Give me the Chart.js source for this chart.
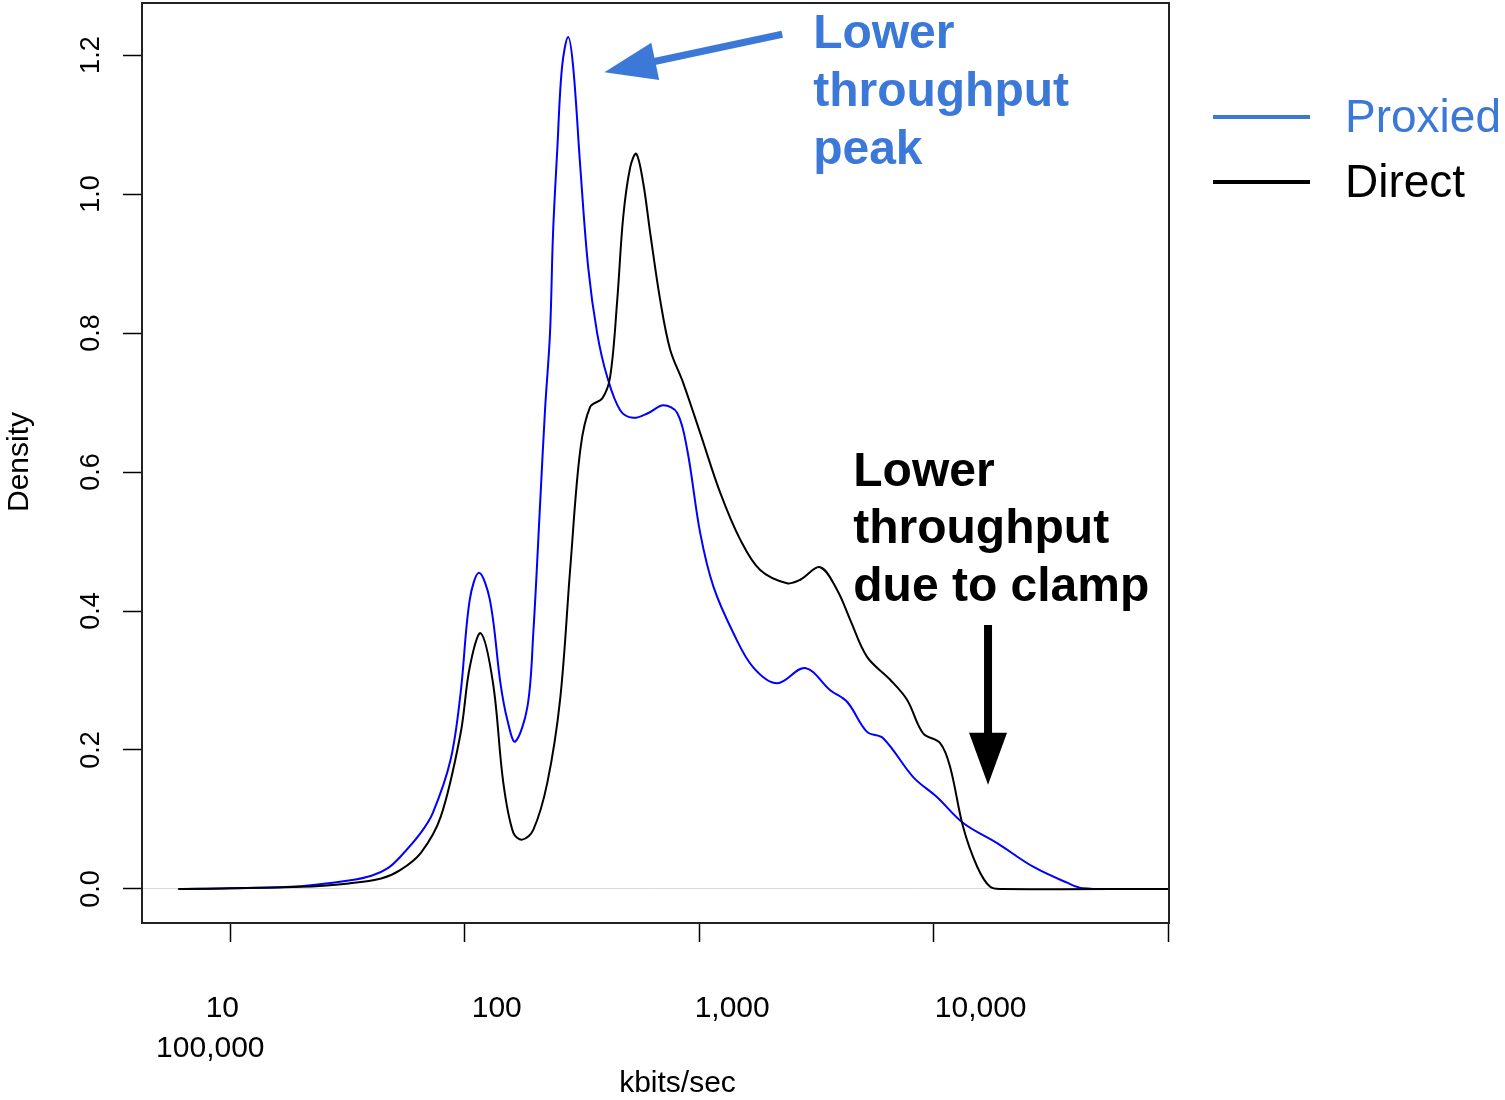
<!DOCTYPE html>
<html>
<head>
<meta charset="utf-8">
<script src="https://cdn.jsdelivr.net/npm/chart.js@4/dist/chart.umd.min.js"></script>
<style>
  html, body { margin: 0; padding: 0; background: #fff; }
  #wrap { width: 1505px; height: 1100px; }
</style>
</head>
<body>
<div id="wrap"><canvas id="densityChart" width="1505" height="1100"></canvas></div>
<script>
// density of throughput (x in kbits/sec, y = density)
const proxiedX = [6, 10, 20, 32, 40, 47, 53, 65, 73, 87, 96, 105, 115, 128, 142, 152, 164, 185, 196, 210, 220, 231,
  238, 248, 260, 276, 290, 311, 336, 367, 405, 460, 523, 607, 703, 806, 889, 1010, 1150, 1400, 1700, 2150, 2830,
  3620, 4280, 5200, 6090, 8180, 10350, 13360, 18660, 26570, 37070, 43400, 71000];
const proxiedY = [0, 0.001, 0.004, 0.012, 0.019, 0.030, 0.046, 0.081, 0.109, 0.186, 0.282, 0.416, 0.455, 0.416, 0.296, 0.243, 0.212, 0.262, 0.368, 0.560, 0.690, 0.800,
  0.944, 1.063, 1.183, 1.226, 1.183, 1.039, 0.895, 0.800, 0.737, 0.689, 0.678, 0.685, 0.696, 0.685, 0.632, 0.512, 0.435, 0.368, 0.319, 0.296, 0.318,
  0.286, 0.269, 0.226, 0.217, 0.161, 0.132, 0.095, 0.066, 0.032, 0.009, 0.001, 0];

const directX = [6, 20, 32, 44, 53, 65, 79, 96, 105, 117, 132, 146, 161, 176, 196, 225, 255, 282, 311, 343,
  386, 417, 447, 474, 508, 539, 577, 618, 682, 752, 855, 1010, 1230, 1500, 1820, 2370, 2700, 3280, 3880, 4410,
  5200, 6530, 7710, 9020, 10660, 11750, 13360, 15340, 17420, 19770, 100000];
const directY = [0, 0.003, 0.008, 0.015, 0.027, 0.052, 0.104, 0.224, 0.319, 0.368, 0.296, 0.153, 0.081, 0.071, 0.085, 0.153, 0.272, 0.463, 0.632, 0.694,
  0.706, 0.737, 0.847, 0.967, 1.039, 1.058, 1.016, 0.944, 0.847, 0.776, 0.728, 0.656, 0.570, 0.502, 0.459, 0.440, 0.445, 0.463, 0.430, 0.387,
  0.334, 0.301, 0.272, 0.224, 0.210, 0.176, 0.089, 0.032, 0.003, 0, 0];

const xTickValues = [10, 100, 1000, 10000, 100000];
const xTickLabels = ['10', '100', '1,000', '10,000', '100,000'];
const yTickValues = [0, 0.2, 0.4, 0.6, 0.8, 1.0, 1.2];
const yTickLabels = ['0.0', '0.2', '0.4', '0.6', '0.8', '1.0', '1.2'];

const seriesNames = ['Proxied', 'Direct'];
const xTitle = 'kbits/sec';
const yTitle = 'Density';
const peakNote = ['Lower', 'throughput', 'peak'];
const clampNote = ['Lower', 'throughput', 'due to clamp'];

// annotation anchors in data space
const peakArrow = { from: [2260, 1.230], to: [394, 1.1755] };
const peakNoteAt = [3062, 1.210];
const clampArrow = { from: [17060, 0.380], to: [17060, 0.150] };
const clampNoteAt = [4540, 0.580];

const FONT = '"Liberation Sans", Arial, Helvetica, sans-serif';
const NOTE_BLUE = '#3c78d8';

// the reference puts the tick labels off their ticks; keep that
const xLabelLayout = [
  { tick: 0, dx: -8, baseline: 1017 },
  { tick: 1, dx: 32, baseline: 1017 },
  { tick: 2, dx: 33, baseline: 1017 },
  { tick: 3, dx: 47, baseline: 1017 },
  { tick: 0, dx: -20, baseline: 1057 }
];

function toPoints(xs, ys) {
  return xs.map((x, i) => ({ x, y: ys[i] }));
}

function drawArrow(ctx, x1, y1, x2, y2, shaft, headLen, headHalf, color) {
  const ang = Math.atan2(y2 - y1, x2 - x1);
  const bx = x2 - Math.cos(ang) * headLen;
  const by = y2 - Math.sin(ang) * headLen;
  ctx.save();
  ctx.strokeStyle = color;
  ctx.fillStyle = color;
  ctx.lineWidth = shaft;
  ctx.lineCap = 'butt';
  ctx.beginPath();
  ctx.moveTo(x1, y1);
  ctx.lineTo(bx + Math.cos(ang) * 2, by + Math.sin(ang) * 2);
  ctx.stroke();
  ctx.beginPath();
  ctx.moveTo(x2, y2);
  ctx.lineTo(bx + Math.sin(ang) * headHalf, by - Math.cos(ang) * headHalf);
  ctx.lineTo(bx - Math.sin(ang) * headHalf, by + Math.cos(ang) * headHalf);
  ctx.closePath();
  ctx.fill();
  ctx.restore();
}

const decorations = {
  id: 'decorations',
  afterDraw(chart) {
    const ctx = chart.ctx;
    const area = chart.chartArea;
    const xs = chart.scales.x;
    const ys = chart.scales.y;

    // plot box
    ctx.save();
    ctx.strokeStyle = '#222';
    ctx.lineWidth = 2;
    ctx.strokeRect(area.left, area.top, area.right - area.left, area.bottom - area.top);

    // y tick labels, rotated like R
    ctx.fillStyle = '#000';
    ctx.font = `27px ${FONT}`;
    ctx.textAlign = 'center';
    ctx.textBaseline = 'alphabetic';
    yTickValues.forEach((v, i) => {
      ctx.save();
      ctx.translate(99, ys.getPixelForValue(v));
      ctx.rotate(-Math.PI / 2);
      ctx.fillText(yTickLabels[i], 0, 0);
      ctx.restore();
    });

    // x tick labels
    ctx.font = `30px ${FONT}`;
    xLabelLayout.forEach((l, i) => {
      const px = xs.getPixelForValue(xTickValues[l.tick]) + l.dx;
      ctx.fillText(xTickLabels[i], px, l.baseline);
    });

    // axis titles
    ctx.fillText(xTitle, (area.left + area.right) / 2 + 22, 1092);
    ctx.save();
    ctx.translate(28, 462);
    ctx.rotate(-Math.PI / 2);
    ctx.fillText(yTitle, 0, 0);
    ctx.restore();

    // legend
    const legendColors = [NOTE_BLUE, '#000'];
    const legendRows = [117, 182];
    ctx.font = `46px ${FONT}`;
    ctx.textAlign = 'left';
    ctx.textBaseline = 'middle';
    seriesNames.forEach((name, i) => {
      ctx.strokeStyle = legendColors[i];
      ctx.lineWidth = 4;
      ctx.beginPath();
      ctx.moveTo(area.right + 44, legendRows[i]);
      ctx.lineTo(area.right + 141, legendRows[i]);
      ctx.stroke();
      ctx.fillStyle = legendColors[i];
      ctx.fillText(name, area.right + 176, legendRows[i] + 2);
    });

    // notes
    ctx.textBaseline = 'alphabetic';
    ctx.font = `bold 48px ${FONT}`;
    ctx.fillStyle = NOTE_BLUE;
    let nx = xs.getPixelForValue(peakNoteAt[0]);
    let ny = ys.getPixelForValue(peakNoteAt[1]);
    peakNote.forEach((t, i) => ctx.fillText(t, nx, ny + i * 58));

    ctx.fillStyle = '#000';
    nx = xs.getPixelForValue(clampNoteAt[0]);
    ny = ys.getPixelForValue(clampNoteAt[1]);
    clampNote.forEach((t, i) => ctx.fillText(t, nx, ny + i * 57.5));
    ctx.restore();

    drawArrow(ctx,
      xs.getPixelForValue(peakArrow.from[0]), ys.getPixelForValue(peakArrow.from[1]),
      xs.getPixelForValue(peakArrow.to[0]), ys.getPixelForValue(peakArrow.to[1]),
      7, 52, 19, NOTE_BLUE);
    drawArrow(ctx,
      xs.getPixelForValue(clampArrow.from[0]), ys.getPixelForValue(clampArrow.from[1]),
      xs.getPixelForValue(clampArrow.to[0]), ys.getPixelForValue(clampArrow.to[1]),
      8, 52, 19, '#000');
  }
};

new Chart(document.getElementById('densityChart').getContext('2d'), {
  type: 'line',
  data: {
    datasets: [
      {
        label: seriesNames[1],
        data: toPoints(directX, directY),
        borderColor: '#000',
        borderWidth: 2,
        pointRadius: 0,
        fill: false,
        tension: 0.35
      },
      {
        label: seriesNames[0],
        data: toPoints(proxiedX, proxiedY),
        borderColor: '#0000ff',
        borderWidth: 2,
        pointRadius: 0,
        fill: false,
        tension: 0.35
      }
    ]
  },
  options: {
    responsive: false,
    animation: false,
    devicePixelRatio: 1,
    layout: { padding: { top: 3, right: 336, left: 0, bottom: 0 } },
    plugins: {
      legend: { display: false },
      tooltip: { enabled: false }
    },
    scales: {
      x: {
        type: 'logarithmic',
        min: 4.2,
        max: 100900,
        afterBuildTicks: s => { s.ticks = xTickValues.map(v => ({ value: v })); },
        afterFit: s => { s.height = 177; },
        ticks: { display: false },
        grid: { drawOnChartArea: false, drawTicks: true, tickLength: 19, tickColor: '#000', tickWidth: 1.5 },
        border: { display: false }
      },
      y: {
        type: 'linear',
        min: -0.049,
        max: 1.275,
        afterBuildTicks: s => { s.ticks = yTickValues.map(v => ({ value: v })); },
        afterFit: s => { s.width = 142; },
        ticks: { display: false },
        grid: {
          drawTicks: true,
          tickLength: 19,
          tickColor: '#000',
          tickWidth: 1.5,
          color: c => (c.tick && c.tick.value === 0 ? '#d9d9d9' : 'rgba(0,0,0,0)')
        },
        border: { display: false }
      }
    }
  },
  plugins: [decorations]
});
</script>
</body>
</html>
